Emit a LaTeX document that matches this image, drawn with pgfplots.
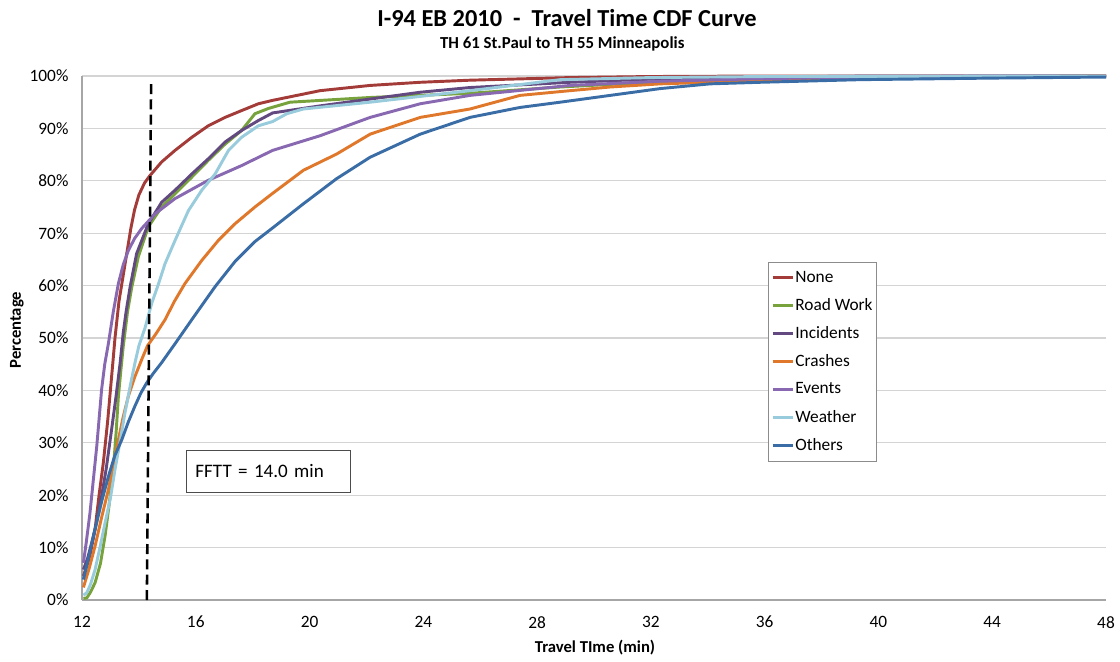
\documentclass[border=0pt]{standalone}
\usepackage{fontspec}
\setmainfont{Carlito}
\usepackage{pgfplots}
\pgfplotsset{compat=1.18}

\definecolor{cNone}{HTML}{A33B39}
\definecolor{cRoad}{HTML}{77A23C}
\definecolor{cInc}{HTML}{624A80}
\definecolor{cCrash}{HTML}{E0782B}
\definecolor{cEvent}{HTML}{8868B0}
\definecolor{cWeather}{HTML}{98CBDB}
\definecolor{cOther}{HTML}{3A6DA6}

\begin{document}
\begin{tikzpicture}
\useasboundingbox (-61.5pt,-45.75pt) rectangle (778.5pt,450pt);
\begin{axis}[
  scale only axis,
  width=768pt, height=393pt,
  xmin=12, xmax=48, ymin=0, ymax=100,
  xtick={12,16,...,48},
  ytick={0,10,...,100},
  yticklabel={\pgfmathprintnumber{\tick}\%},
  /pgf/number format/assume math mode=true,
  tick label style={font=\fontsize{13}{15}\selectfont},
  xticklabel style={anchor=north, inner sep=0pt, yshift=-12pt},
  yticklabel style={anchor=east, inner sep=0pt, xshift=-10pt},
  major tick length=0pt,
  axis x line*=bottom, axis y line*=left,
  axis line style={draw=black!35, line width=0.9pt, -},
  ymajorgrids,
  grid style={draw=black!17, line width=0.9pt},
  xlabel={Travel TIme (min)},
  ylabel={Percentage},
  label style={font=\bfseries\fontsize{12.5}{14}\selectfont},
  xlabel style={at={(axis description cs:0.501,-0.0916)}, anchor=center},
  ylabel style={at={(axis description cs:-0.0635,0.515)}, anchor=center},
  legend style={at={(rel axis cs:0.6699,0.645)}, anchor=north west,
    draw=black!45, line width=0.6pt, fill=white,
    font=\fontsize{13}{15}\selectfont, row sep=10.6pt,
    inner xsep=2pt, inner ysep=6.5pt,
    nodes={inner xsep=1pt, inner ysep=0pt}},
  legend cell align=left,
  legend image code/.code={\draw[#1, line width=2.2pt] (0pt,0pt) -- (15pt,0pt);},
  every axis plot/.append style={line width=2.2pt, line join=round},
  clip=false,
]
\addplot[cNone] coordinates {
(12.05,4.6) (12.2,7) (12.3,9) (12.46,13.5) (12.6,20) (12.75,26.2) (12.9,34) (12.98,38.9)
(13.08,45) (13.16,50) (13.3,57) (13.45,62) (13.6,67) (13.72,71) (13.85,74.5) (14.0,77.3)
(14.2,79.6) (14.39,81) (14.8,83.6) (15.27,85.8) (15.86,88.3) (16.44,90.5) (17.03,92.1) (17.61,93.4)
(18.2,94.7) (18.7,95.35) (20.37,97.2) (22.13,98.2) (23.89,98.8) (25.64,99.2) (29.16,99.7)
(32,99.9) (36,100) (48,100)};
\addlegendentry{None}
\addplot[cRoad] coordinates {
(12.05,0.3) (12.17,0.4) (12.3,1.5) (12.46,3.3) (12.65,7) (12.81,12.2) (12.95,18) (13.1,24.9)
(13.2,32) (13.28,38.9) (13.37,44) (13.45,48.4) (13.51,51) (13.6,55) (13.75,59.7) (13.98,65.5)
(14.33,71.2) (14.8,75) (15.27,77.5) (15.86,80.7) (16.44,83.9) (17.03,87) (17.61,89.6)
(18.08,92.8) (18.55,93.8) (19.31,95) (22.13,95.9) (25.64,96.7) (28.81,97.9) (32,98.8)
(36,99.5) (40,99.8) (48,100)};
\addlegendentry{Road Work}
\addplot[cInc] coordinates {
(12.05,5.8) (12.2,8) (12.34,10.9) (12.5,14.5) (12.69,19.8) (12.85,25) (13.04,32.5) (13.2,39)
(13.34,45.2) (13.45,51) (13.55,55) (13.69,59.7) (13.92,66.1) (14.33,71.8) (14.8,75.9)
(15.27,78.2) (15.86,81.3) (16.44,84.2) (17.03,87.4) (17.61,89.6) (18.2,91.5) (18.7,92.95)
(20.37,94.3) (22.13,95.6) (23.89,96.9) (25.64,97.8) (29.16,98.8) (32,99.4) (36,99.8)
(40,100) (48,100)};
\addlegendentry{Incidents}
\addplot[cCrash] coordinates {
(12.05,2.4) (12.25,6) (12.46,10.3) (12.7,16) (12.93,21.1) (13.1,26) (13.28,30.6) (13.45,35)
(13.63,38.9) (13.85,42.5) (14.1,45.9) (14.3,48.5) (14.6,50.8) (14.92,53.5) (15.25,57)
(15.62,60.4) (16.21,64.8) (16.79,68.6) (17.38,71.8) (18.08,75) (18.7,77.6) (19.78,82)
(20.95,85.1) (22.13,88.9) (23.89,92.1) (25.64,93.7) (27.4,96.3) (29.16,97.2) (30.57,97.9)
(32.33,98.5) (34.08,98.8) (36,99.2) (40,99.6) (44,99.8) (48,100)};
\addlegendentry{Crashes}
\addplot[cEvent] coordinates {
(12.05,7.1) (12.15,11) (12.28,16.6) (12.4,23) (12.52,29.4) (12.69,40.2) (12.8,45) (12.93,49)
(13.1,55) (13.28,60.4) (13.45,64) (13.63,66.7) (13.85,69) (14.1,70.9) (14.57,73.7)
(15.27,76.6) (16.44,80.1) (17.61,82.9) (18.7,85.8) (20.37,88.6) (22.13,92.1) (23.89,94.7)
(25.64,96.3) (29.16,98.2) (32.33,99) (36,99.5) (40,99.8) (44,100) (48,100)};
\addlegendentry{Events}
\addplot[cWeather] coordinates {
(12.05,0.9) (12.17,1.4) (12.3,3) (12.46,5.8) (12.63,10) (12.81,14.7) (13.0,19.5) (13.16,24.9)
(13.33,30) (13.51,35.7) (13.7,41) (13.86,45.2) (14.0,48.5) (14.22,52) (14.45,56.6)
(14.7,60.5) (14.92,64.2) (15.27,68.6) (15.74,74.3) (16.21,78.2) (16.68,81.3) (17.15,85.8)
(17.61,88.3) (18.2,90.5) (18.7,91.3) (19.2,92.8) (19.78,93.7) (22.13,95) (25.64,97.2)
(28.81,99.3) (32,99.7) (36,99.9) (48,100)};
\addlegendentry{Weather}
\addplot[cOther] coordinates {
(12.05,3.9) (12.25,8.5) (12.46,13.5) (12.7,19) (12.93,23.6) (13.15,27.5) (13.4,30.6)
(13.63,34) (13.86,37) (14.07,39.5) (14.27,41.4) (14.5,43.2) (14.8,45.3) (15.27,48.9)
(15.86,53.5) (16.68,59.8) (17.38,64.6) (18.08,68.4) (18.7,71) (19.78,75.6) (20.95,80.4)
(22.13,84.5) (23.89,88.9) (25.64,92.1) (27.4,94) (28.81,95) (30.57,96.3) (32.33,97.6)
(34.08,98.5) (35.84,98.8) (39.36,99.3) (44,99.6) (48,99.8)};
\addlegendentry{Others}
\addplot[forget plot, black, line width=1.9pt, dash pattern=on 7.5pt off 4pt]
  coordinates {(14.28,0) (14.43,98.6)};
\node[draw=black!70, line width=0.7pt, fill=white, anchor=west,
  minimum height=31.5pt, text width=109.5pt, inner xsep=6.75pt, align=left,
  font=\fontsize{14.3}{17}\selectfont] at (axis cs:15.657,24.6) {FFTT = 14.0 min};
\node[font=\bfseries\fontsize{18.3}{21}\selectfont] at (axis description cs:0.4736,1.1107)
  {I-94 EB 2010\ \ -\ \ Travel Time CDF Curve};
\node[font=\bfseries\fontsize{12.6}{15}\selectfont] at (axis description cs:0.469,1.0611)
  {TH 61 St.Paul to TH 55 Minneapolis};
\end{axis}
\end{tikzpicture}
\end{document}
